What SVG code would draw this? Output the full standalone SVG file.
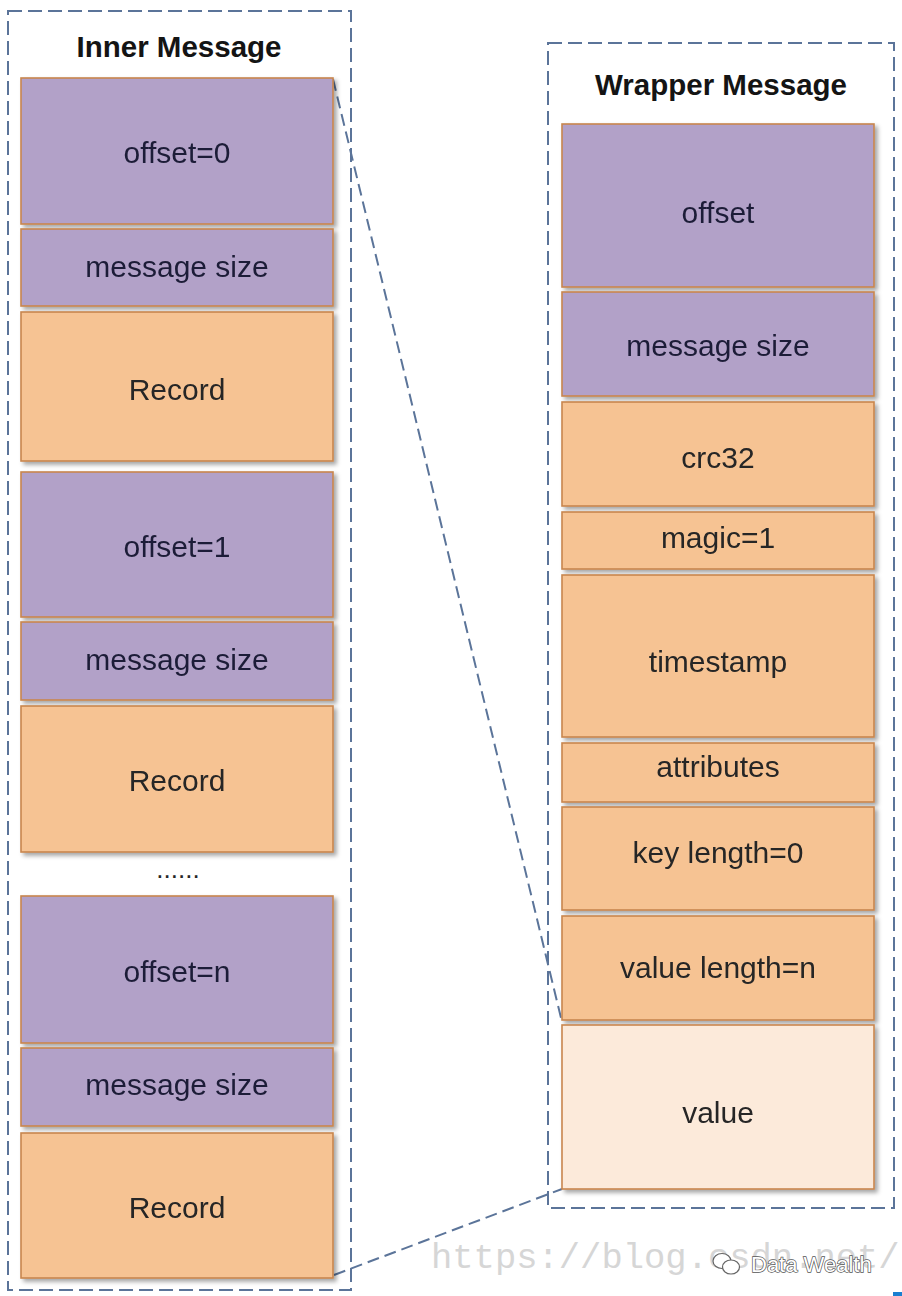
<svg xmlns="http://www.w3.org/2000/svg" width="902" height="1296" viewBox="0 0 902 1296">
<style>
.cont{fill:none;stroke:#5B7499;stroke-width:2;stroke-dasharray:14 6}
.conn{fill:none;stroke:#5B7499;stroke-width:2;stroke-dasharray:12 6}
.p{fill:#B2A1C8;stroke:#C8864E;stroke-width:1.6}
.o{fill:#F6C393;stroke:#C8864E;stroke-width:1.6}
.v{fill:#FCEADA;stroke:#C8864E;stroke-width:1.6}
.t{font-family:"Liberation Sans",Arial,sans-serif;font-size:30px;fill:#262626;text-anchor:middle}
.tp{fill:#1E1E38}
.title{font-family:"Liberation Sans",Arial,sans-serif;font-size:29.5px;font-weight:bold;fill:#141414;text-anchor:middle}
.wm{font-family:"Liberation Mono","Courier New",monospace;font-size:35.5px;fill:#D6D6D6}
.dw{font-family:"Liberation Sans",Arial,sans-serif;font-size:22px;fill:#ffffff;stroke:#555;stroke-width:1.4;paint-order:stroke}
</style>
<defs>
<filter id="sh" x="-10%" y="-10%" width="120%" height="130%">
<feDropShadow dx="3" dy="3" stdDeviation="2" flood-color="#000" flood-opacity="0.35"/>
</filter>
</defs>
<rect width="902" height="1296" fill="#ffffff"/>

<g id="inner-container">
<rect class="cont" x="8" y="11" width="343" height="1279"/>
<text class="title" x="179" y="57">Inner Message</text>
</g>
<g id="wrapper-container">
<rect class="cont" x="548" y="43" width="346" height="1165"/>
<text class="title" x="721" y="95">Wrapper Message</text>
</g>

<g id="connectors">
<line class="conn" x1="333" y1="79" x2="562" y2="1022"/>
<line class="conn" x1="334" y1="1275" x2="562" y2="1189"/>
</g>

<g filter="url(#sh)">
<g id="in-offset0"><rect class="p" x="21" y="78" width="312" height="146"/><text class="t tp" x="177" y="163">offset=0</text></g>
<g id="in-size0"><rect class="p" x="21" y="229" width="312" height="77"/><text class="t tp" x="177" y="277">message size</text></g>
<g id="in-record0"><rect class="o" x="21" y="312" width="312" height="149"/><text class="t" x="177" y="400">Record</text></g>
<g id="in-offset1"><rect class="p" x="21" y="472" width="312" height="145"/><text class="t tp" x="177" y="557">offset=1</text></g>
<g id="in-size1"><rect class="p" x="21" y="622" width="312" height="78"/><text class="t tp" x="177" y="670">message size</text></g>
<g id="in-record1"><rect class="o" x="21" y="706" width="312" height="146"/><text class="t" x="177" y="791">Record</text></g>
<g id="in-offsetn"><rect class="p" x="21" y="896" width="312" height="147"/><text class="t tp" x="177" y="982">offset=n</text></g>
<g id="in-sizen"><rect class="p" x="21" y="1048" width="312" height="78"/><text class="t tp" x="177" y="1095">message size</text></g>
<g id="in-recordn"><rect class="o" x="21" y="1133" width="312" height="145"/><text class="t" x="177" y="1218">Record</text></g>

<g id="w-offset"><rect class="p" x="562" y="124" width="312" height="163"/><text class="t tp" x="718" y="223">offset</text></g>
<g id="w-size"><rect class="p" x="562" y="292" width="312" height="104"/><text class="t tp" x="718" y="356">message size</text></g>
<g id="w-crc"><rect class="o" x="562" y="402" width="312" height="104"/><text class="t" x="718" y="468">crc32</text></g>
<g id="w-magic"><rect class="o" x="562" y="512" width="312" height="57"/><text class="t" x="718" y="548">magic=1</text></g>
<g id="w-timestamp"><rect class="o" x="562" y="575" width="312" height="162"/><text class="t" x="718" y="672">timestamp</text></g>
<g id="w-attributes"><rect class="o" x="562" y="743" width="312" height="59"/><text class="t" x="718" y="777">attributes</text></g>
<g id="w-keylen"><rect class="o" x="562" y="807" width="312" height="103"/><text class="t" x="718" y="863">key length=0</text></g>
<g id="w-vallen"><rect class="o" x="562" y="916" width="312" height="104"/><text class="t" x="718" y="978">value length=n</text></g>
<g id="w-value"><rect class="v" x="562" y="1025" width="312" height="164"/><text class="t" x="718" y="1123">value</text></g>
</g>

<text class="t" x="178" y="878" style="font-size:26px">......</text>

<g id="watermark">
<text class="wm" x="431" y="1268">https://blog.csdn.net/</text>
<g fill="#ffffff" stroke="#666" stroke-width="1.2">
<ellipse cx="722" cy="1261" rx="9" ry="7.5"/>
<ellipse cx="731" cy="1267" rx="8.5" ry="7"/>
</g>
<text class="dw" x="751" y="1272">Data Wealth</text>
<rect x="893" y="1292" width="9" height="4" fill="#1A7FD0"/>
</g>
</svg>
